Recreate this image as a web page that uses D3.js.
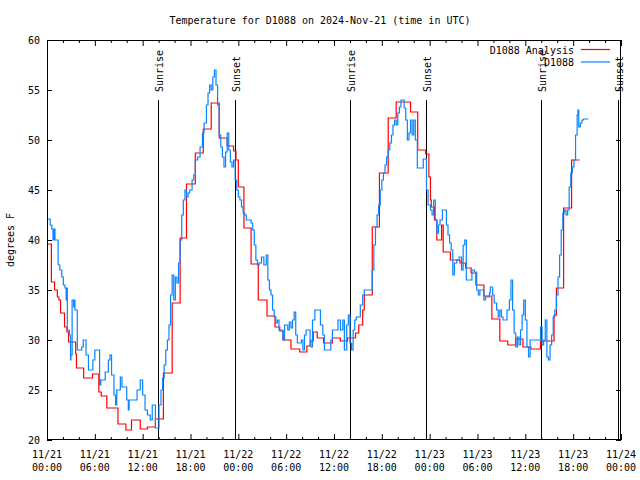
<!DOCTYPE html>
<html><head><meta charset="utf-8">
<script src="https://cdn.jsdelivr.net/npm/d3@7"></script>
<style>
body{margin:0;background:#fff}
text{font-family:"DejaVu Sans Mono",monospace;font-size:10px;fill:#000}
</style>
</head><body>
<svg id="c" width="640" height="480"></svg>
<script>
// ---- data ----
const chartTitle = "Temperature for D1088 on 2024-Nov-21 (time in UTC)";
const yLabel = "degrees F";
const seriesNames = ["D1088 Analysis", "D1088"];
const seriesColors = ["#ff0000", "#0a84ff"];

// hours since 2024-11-21 00:00 UTC (step values)
const redHours = [0,0.55,0.95,1.3,1.5,1.7,2.2,2.5,2.7,3.6,3.7,4.6,5.7,6.5,6.8,7.5,8.9,9.9,10.6,11.7,12.6,13.6,14.6,15.7,16.7,17.5,18.6,19.6,20.6,21.6,22.6,23.4,23.7,24.0,24.7,25.6,26.5,27.6,28.6,29.2,29.6,30.6,31.7,32.6,33.0,33.4,33.9,34.7,35.8,36.8,37.7,38.7,39.1,39.6,39.8,40.8,41.7,42.8,43.8,45.6,46.5,47.5,47.9,48.1,48.2,48.6,48.9,49.5,49.7,50.6,51.8,52.5,53.2,53.8,54.8,55.8,56.8,57.8,58.8,59.7,60.7,61.9,63.6,63.9,64.8,65.8,66.8];
const redTemps = [39.6,35.8,35.0,34.3,34.0,32.7,31.3,30.8,29.8,28.6,27.2,26.2,26.6,24.8,24.4,23.2,21.6,21.0,22.0,21.1,21.3,22.1,26.7,33.7,40.2,45.6,48.7,51.1,53.7,50.2,49.4,48.9,48.0,45.3,41.2,37.6,34.0,32.4,31.3,30.9,30.0,29.1,28.8,29.4,29.9,30.8,30.2,29.7,30.2,29.9,30.2,30.7,31.5,33.0,34.5,41.3,46.7,52.2,53.8,52.8,49.0,48.6,46.3,44.0,43.3,42.0,40.0,41.5,38.8,38.0,37.7,37.2,36.7,35.5,34.4,32.1,29.9,29.5,30.1,29.3,29.1,29.9,32.5,35.2,43.2,48.0,48.0];

const blueHours = [0,0.4,0.6,0.75,0.85,1.0,1.4,1.6,1.85,2.05,2.25,2.4,2.5,2.55,2.8,2.95,3.0,3.15,3.35,3.45,3.5,3.8,4.35,4.55,4.9,5.2,5.75,6.0,6.6,6.75,7.3,7.7,7.9,8.1,8.4,8.6,8.75,9.2,9.4,10.0,10.2,10.3,11.3,11.7,12.0,12.3,12.6,12.95,13.2,13.6,
14.05,14.3,14.5,14.7,14.9,15.1,15.3,15.5,15.7,15.9,16.1,16.3,16.5,16.7,16.9,17.1,17.3,17.5,17.7,17.9,18.2,18.4,18.6,18.9,19.2,19.5,19.7,20.0,20.2,20.4,20.6,20.8,21.0,21.2,21.4,21.6,21.8,22.0,22.2,22.4,22.6,22.8,23.0,23.2,23.4,23.6,23.8,24.0,24.2,24.4,24.6,24.8,25.0,25.6,25.8,26.0,26.2,26.4,
26.6,26.9,27.2,27.5,27.7,27.9,28.1,28.3,28.5,28.7,28.9,29.1,29.4,29.6,29.8,30.2,30.4,30.6,30.8,31.0,31.2,31.4,31.9,32.1,32.3,32.5,33.0,33.1,33.3,33.6,34.3,34.6,34.8,35.6,35.8,36.5,36.8,37.1,37.3,37.6,37.8,38.0,38.2,38.4,38.6,38.8,39.3,39.6,
39.8,40.5,40.8,41.0,41.2,41.4,41.6,41.8,42.0,42.2,42.4,42.6,42.8,43.0,43.2,43.4,43.6,43.8,44.0,44.2,44.4,44.6,44.8,45.0,45.2,45.4,45.6,45.8,46.0,46.2,46.45,47.2,47.6,
47.8,48.1,48.3,48.5,48.7,48.9,49.1,49.3,49.6,50.1,50.3,50.5,50.7,50.9,51.1,51.4,51.7,52.0,52.2,52.4,52.6,53.3,53.6,53.9,54.1,54.3,54.8,55.0,55.5,55.6,55.9,56.1,56.4,56.6,56.8,57.0,57.2,57.7,
58.0,58.2,58.4,58.6,58.8,59.0,59.2,59.4,59.6,59.8,60.0,60.2,60.4,60.6,61.9,62.1,62.3,62.5,62.7,62.9,63.1,63.3,63.5,63.7,63.9,64.1,64.3,64.5,64.7,64.9,65.1,65.3,65.5,65.7,65.9,66.1,66.3,66.5,66.6,66.7,66.9,67.1,67.3,67.9];
const blueTemps = [42.1,41.5,41.1,40.0,41.1,40.0,37.5,37.0,36.3,35.5,35.2,34.0,35.2,31.0,30.5,28.0,28.5,34.0,33.3,34.0,33.0,29.0,29.3,30.0,28.5,27.0,28.0,29.0,25.5,26.0,26.8,28.0,28.5,26.5,24.5,23.5,25.0,26.3,25.3,24.0,23.0,24.0,25.0,26.0,24.5,23.0,22.5,22.0,23.5,21.2,
23.5,25.0,26.2,27.5,29.0,30.0,31.5,34.5,36.5,34.0,36.3,35.7,37.7,40.0,42.5,44.0,45.0,44.3,44.7,45.0,46.0,46.5,48.0,48.3,49.3,50.7,51.7,53.5,54.7,55.5,55.0,56.3,57.0,55.5,53.5,50.5,49.3,48.3,47.3,48.8,50.7,49.0,47.8,47.3,48.0,46.0,45.0,44.3,44.0,43.3,42.7,42.5,42.0,41.7,41.0,39.5,38.0,37.5,
37.7,38.3,37.5,38.5,36.0,35.0,34.5,33.0,32.3,31.7,32.0,31.0,31.0,30.0,31.5,31.0,31.8,31.2,32.0,32.8,30.5,29.7,30.0,29.0,30.5,31.0,30.0,29.3,32.0,33.0,31.5,30.5,29.0,30.0,31.0,32.0,31.0,32.0,29.0,31.5,32.5,29.7,29.0,31.0,32.0,32.3,33.5,34.5,
35.0,35.0,37.0,39.5,41.3,42.5,43.5,45.0,46.0,46.7,47.5,48.3,49.0,49.7,50.5,51.5,52.0,51.5,52.7,53.3,54.0,54.0,53.2,52.0,50.0,50.7,52.0,50.5,52.0,50.0,47.2,48.1,45.0,
43.5,43.0,42.5,44.0,42.0,40.7,41.5,42.0,43.0,41.5,40.5,39.7,39.0,36.5,37.7,38.0,38.3,37.0,39.5,40.0,36.0,37.0,36.8,35.0,34.5,35.0,34.0,34.3,34.7,35.3,34.5,33.7,33.0,32.3,33.0,32.3,32.0,33.0,
34.0,36.0,33.0,30.7,29.3,30.3,29.5,31.0,32.5,34.0,32.0,29.3,28.3,30.0,31.3,29.5,30.0,32.0,28.3,28.0,29.5,30.5,32.3,33.0,34.5,36.3,38.5,41.0,42.7,43.0,42.5,43.0,45.3,46.7,47.3,48.0,50.5,52.5,53.0,51.3,51.7,52.0,52.1,52.1];

const sunriseHours = [13.95, 37.95, 62.0];
const sunsetHours = [23.55, 47.57, 71.6];

const xMajorTicks = [0,6,12,18,24,30,36,42,48,54,60,66,72];
const xTickDates = ["11/21","11/21","11/21","11/21","11/22","11/22","11/22","11/22","11/23","11/23","11/23","11/23","11/24"];
const xTickTimes = ["00:00","06:00","12:00","18:00","00:00","06:00","12:00","18:00","00:00","06:00","12:00","18:00","00:00"];
const xMinorTicks = [2,4,8,10,14,16,20,22,26,28,32,34,38,40,44,46,50,52,56,58,62,64,68,70];
const yTicks = [20,25,30,35,40,45,50,55,60];

// ---- chart ----
const svg = d3.select("#c");
const L = 47, R = 621, T = 40, B = 440;
const x = d3.scaleLinear().domain([0,72]).range([L,R]);
const y = d3.scaleLinear().domain([20,60]).range([B,T]);

svg.append("rect").attr("width",640).attr("height",480).attr("fill","#fff");

// title
svg.append("text").attr("x",320).attr("y",20).attr("dy","0.35em")
  .attr("text-anchor","middle").text(chartTitle);

// y label
svg.append("text").attr("transform","translate(10,240) rotate(-90)")
  .attr("dy","0.35em").attr("text-anchor","middle").text(yLabel);

function styleAxis(g){ g.select(".domain").remove(); g.selectAll("line").attr("stroke","#000"); }

// bottom axis (inward ticks)
svg.append("g").attr("transform",`translate(0,${B})`)
  .call(d3.axisBottom(x).tickValues(xMajorTicks).tickSize(-6).tickFormat("")).call(styleAxis);
svg.append("g").attr("transform",`translate(0,${B})`)
  .call(d3.axisBottom(x).tickValues(xMinorTicks).tickSize(-3).tickFormat("")).call(styleAxis);
// top axis mirror
svg.append("g").attr("transform",`translate(0,${T})`)
  .call(d3.axisTop(x).tickValues(xMajorTicks).tickSize(-6).tickFormat("")).call(styleAxis);
svg.append("g").attr("transform",`translate(0,${T})`)
  .call(d3.axisTop(x).tickValues(xMinorTicks).tickSize(-3).tickFormat("")).call(styleAxis);
// x tick labels (two lines)
const xl = svg.append("g");
xMajorTicks.forEach((t,i)=>{
  const tx = xl.append("text").attr("text-anchor","middle");
  tx.append("tspan").attr("x",x(t)).attr("y",454).attr("dy","0.35em").text(xTickDates[i]);
  tx.append("tspan").attr("x",x(t)).attr("y",467).attr("dy","0.35em").text(xTickTimes[i]);
});

// left axis
svg.append("g").attr("transform",`translate(${L},0)`)
  .call(d3.axisLeft(y).tickValues(yTicks).tickSize(-5).tickPadding(7).tickFormat(d3.format("d")))
  .call(styleAxis)
  .call(g=>g.selectAll("text").style("font-family","'DejaVu Sans Mono',monospace").style("font-size","10px").attr("fill","#000"));
// right axis mirror
svg.append("g").attr("transform",`translate(${R},0)`)
  .call(d3.axisRight(y).tickValues(yTicks).tickSize(-5).tickFormat("")).call(styleAxis);

// sunrise / sunset markers
const marks = sunriseHours.map(h=>({h,label:"Sunrise"})).concat(sunsetHours.map(h=>({h,label:"Sunset"})));
marks.forEach(m=>{
  const px = Math.round(x(m.h))+0.5;
  svg.append("line").attr("x1",px).attr("x2",px).attr("y1",100).attr("y2",B)
    .attr("stroke","#000").attr("stroke-width",1);
  svg.append("text").attr("transform",`translate(${px+0.5},92) rotate(-90)`)
    .attr("dy","0.35em").attr("text-anchor","start").text(m.label);
});

// series
const line = d3.line().curve(d3.curveStepAfter).x(d=>x(d[0])).y(d=>y(d[1]));
const redData = redHours.map((h,i)=>[h,redTemps[i]]);
const blueData = blueHours.map((h,i)=>[h,blueTemps[i]]);
svg.append("path").datum(redData).attr("d",line).attr("fill","none")
  .attr("stroke",seriesColors[0]).attr("stroke-width",1.2);
svg.append("path").datum(blueData).attr("d",line).attr("fill","none")
  .attr("stroke",seriesColors[1]).attr("stroke-width",1.2);

// legend
[[0,50],[1,62.5]].forEach(([i,ly])=>{
  svg.append("text").attr("x",574).attr("y",ly).attr("dy","0.35em")
    .attr("text-anchor","end").text(seriesNames[i]);
  svg.append("line").attr("x1",581).attr("x2",610).attr("y1",ly-0.5).attr("y2",ly-0.5)
    .attr("stroke",seriesColors[i]).attr("stroke-width",1.2);
});

// border
svg.append("rect").attr("x",L+0.5).attr("y",T+0.5).attr("width",R-L-1).attr("height",B-T-1)
  .attr("fill","none").attr("stroke","#000").attr("stroke-width",1);
</script>
</body></html>
